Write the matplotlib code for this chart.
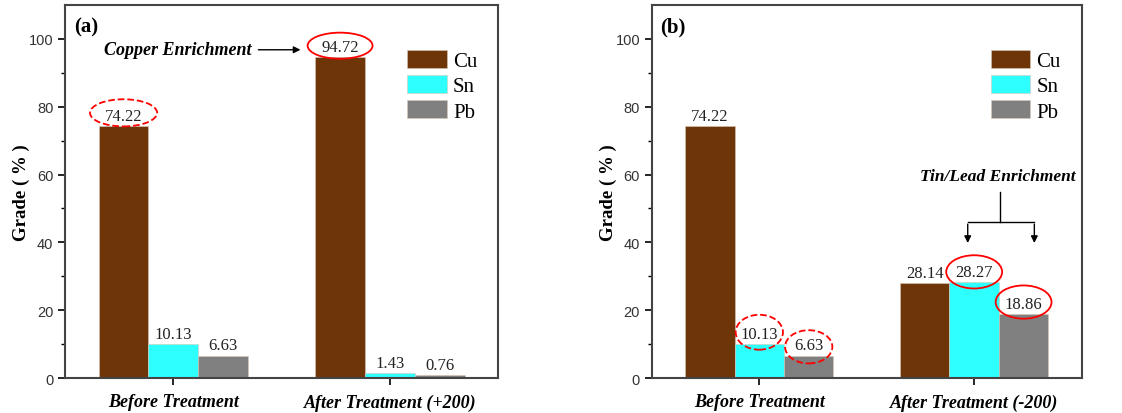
import matplotlib.pyplot as plt
from matplotlib.patches import Ellipse
import numpy as np

# data
metals = ["Cu", "Sn", "Pb"]
labels_a = ["Before Treatment", "After Treatment (+200)"]
labels_b = ["Before Treatment", "After Treatment (-200)"]
before = [74.22, 10.13, 6.63]
after_plus = [94.72, 1.43, 0.76]
after_minus = [28.14, 28.27, 18.86]
colors = ["#6E3509", "#2EFFFF", "#808080"]

serif = "Liberation Serif"
sans = "Liberation Sans"

fig = plt.figure(figsize=(11.22, 4.14), dpi=100)
ax_a = fig.add_axes([0.058, 0.0845, 0.386, 0.901])
ax_b = fig.add_axes([0.581, 0.0845, 0.383, 0.901])

w = 0.23
x = np.arange(2)


def draw_panel(ax, groups, xlabels, tag):
    for i, m in enumerate(metals):
        vals = [g[i] for g in groups]
        pos = x + (i - 1) * w
        ax.bar(pos, vals, width=w, color=colors[i], edgecolor="#d8c8b8",
               linewidth=0.4, label=m)
        for p, v in zip(pos, vals):
            ax.text(p, v + 0.6, f"{v:.2f}", ha="center", va="bottom",
                    family=serif, fontsize=12, color="#222222")
    ax.set_xlim(-0.5, 1.5)
    ax.set_ylim(0, 110)
    ax.set_yticks([0, 20, 40, 60, 80, 100])
    ax.set_yticks(np.arange(10, 110, 20), minor=True)
    ax.set_xticks(x)
    ax.set_xticklabels(xlabels, family=serif, fontsize=13,
                       fontweight="bold", style="italic")
    for t in ax.get_yticklabels():
        t.set_family(sans)
        t.set_fontsize(10.5)
        t.set_color("#333333")
    ax.tick_params(axis="y", which="major", length=5, width=1.2, direction="out")
    ax.tick_params(axis="y", which="minor", length=3, width=1.0, direction="out")
    ax.tick_params(axis="x", length=5, width=1.2, direction="out", pad=6)
    for s in ax.spines.values():
        s.set_linewidth(1.5)
        s.set_color("#444444")
    ax.set_ylabel("Grade ( % )", family=serif, fontsize=13.5, fontweight="bold",
                  labelpad=-1)
    ax.text(0.02, 0.93, tag, transform=ax.transAxes, family=serif,
            fontsize=15, fontweight="bold")
    ax.legend(loc="upper right", bbox_to_anchor=(0.995, 0.93), frameon=False,
              prop={"family": serif, "size": 15}, handlelength=1.9,
              handleheight=0.95, labelspacing=0.2, handletextpad=0.3)


draw_panel(ax_a, [before, after_plus], labels_a, "(a)")
draw_panel(ax_b, [before, after_minus], labels_b, "(b)")

# panel (a) annotations
ax_a.add_patch(Ellipse((1 - w, 98), 0.30, 7.7, fill=False, edgecolor="red",
                       linewidth=1.3))
ax_a.add_patch(Ellipse((-w, 78.2), 0.31, 8.0, fill=False, edgecolor="red",
                       linewidth=1.3, linestyle="--"))
ax_a.annotate("", xy=(0.6, 96.8), xytext=(0.38, 96.8),
              arrowprops=dict(arrowstyle="-|>", color="black", lw=1.0))
ax_a.text(0.36, 96.8, "Copper Enrichment", ha="right", va="center",
          family=serif, fontsize=13, fontweight="bold", style="italic")

# panel (b) annotations
ax_b.add_patch(Ellipse((1.0, 31.3), 0.26, 9.8, fill=False, edgecolor="red",
                       linewidth=1.3))
ax_b.add_patch(Ellipse((1 + w, 22.4), 0.26, 9.8, fill=False, edgecolor="red",
                       linewidth=1.3))
ax_b.add_patch(Ellipse((0.0, 13.5), 0.22, 10.3, fill=False, edgecolor="red",
                       linewidth=1.3, linestyle="--"))
ax_b.add_patch(Ellipse((w, 9.2), 0.22, 9.8, fill=False, edgecolor="red",
                       linewidth=1.3, linestyle="--"))
ax_b.text(1.11, 59.6, "Tin/Lead Enrichment", ha="center", va="center",
          family=serif, fontsize=12.5, fontweight="bold", style="italic")
ax_b.plot([1.12, 1.12], [55, 46], color="black", lw=1.0)
ax_b.plot([0.97, 1.28], [46, 46], color="black", lw=1.0)
for xa in [0.97, 1.28]:
    ax_b.annotate("", xy=(xa, 39), xytext=(xa, 46.2),
                  arrowprops=dict(arrowstyle="-|>", color="black", lw=1.0))

fig.savefig("out.png", dpi=100)
